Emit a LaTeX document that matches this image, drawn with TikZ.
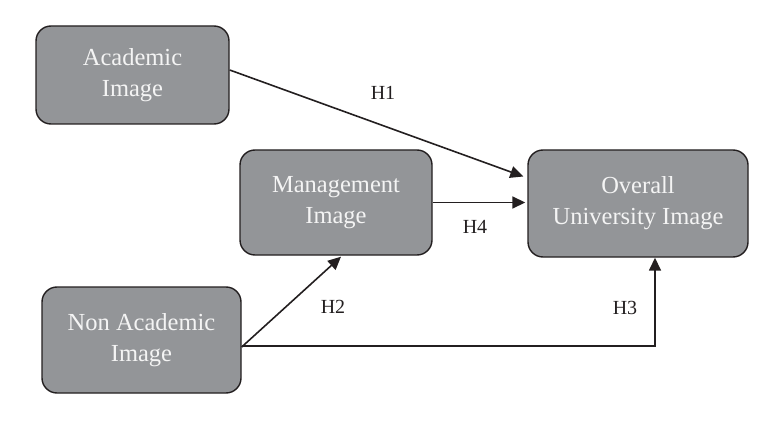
\documentclass[tikz,border=0pt]{standalone}
\usepackage{fontspec}
\setmainfont{Liberation Serif}
\usetikzlibrary{arrows.meta}
\definecolor{boxfill}{HTML}{939598}
\definecolor{boxline}{HTML}{231F20}
\definecolor{boxtext}{HTML}{F4F4F4}
\begin{document}
\begin{tikzpicture}[x=1pt,y=-1pt,
  concept/.style={draw=boxline,line width=1.4pt,fill=boxfill,rounded corners=15pt,
    text=boxtext,align=center,inner sep=0pt,
    font=\fontsize{24.5}{31}\selectfont},
  link/.style={draw=boxline,line width=1.6pt,-{Triangle[length=13pt,width=12pt]}},
  hyp/.style={font=\fontsize{20}{24}\selectfont,text=boxline}]
\useasboundingbox (0,0) rectangle (773,422);
\node[concept,minimum width=193pt,minimum height=98pt] (A) at (132.5,75) {Academic\\Image};
\node[concept,minimum width=192pt,minimum height=105pt] (M) at (336,202.5) {Management\\Image};
\node[concept,minimum width=199pt,minimum height=106pt] (N) at (141.5,340) {Non Academic\\Image};
\node[concept,minimum width=220pt,minimum height=107pt] (O) at (638,203.5) {Overall\\University Image};
\coordinate (s) at ([yshift=-7pt]N.east);
\draw[link] ([yshift=5pt]A.east) -- ([xshift=-4pt,yshift=27pt]O.west);
\draw[link] (M.east) -- ([xshift=-2pt]M.east -| O.west);
\draw[link] (s) -- ([xshift=5pt,yshift=-1pt]M.south);
\draw[link] ([yshift=1pt]s) -| ([xshift=17pt]O.south);
\node[hyp] (h1) at (383,93) {H1};
\node[hyp] (h4) at (475,227) {H4};
\node[hyp] (h2) at (333,307) {H2};
\node[hyp] (h3) at (625,308) {H3};
\end{tikzpicture}
\end{document}
